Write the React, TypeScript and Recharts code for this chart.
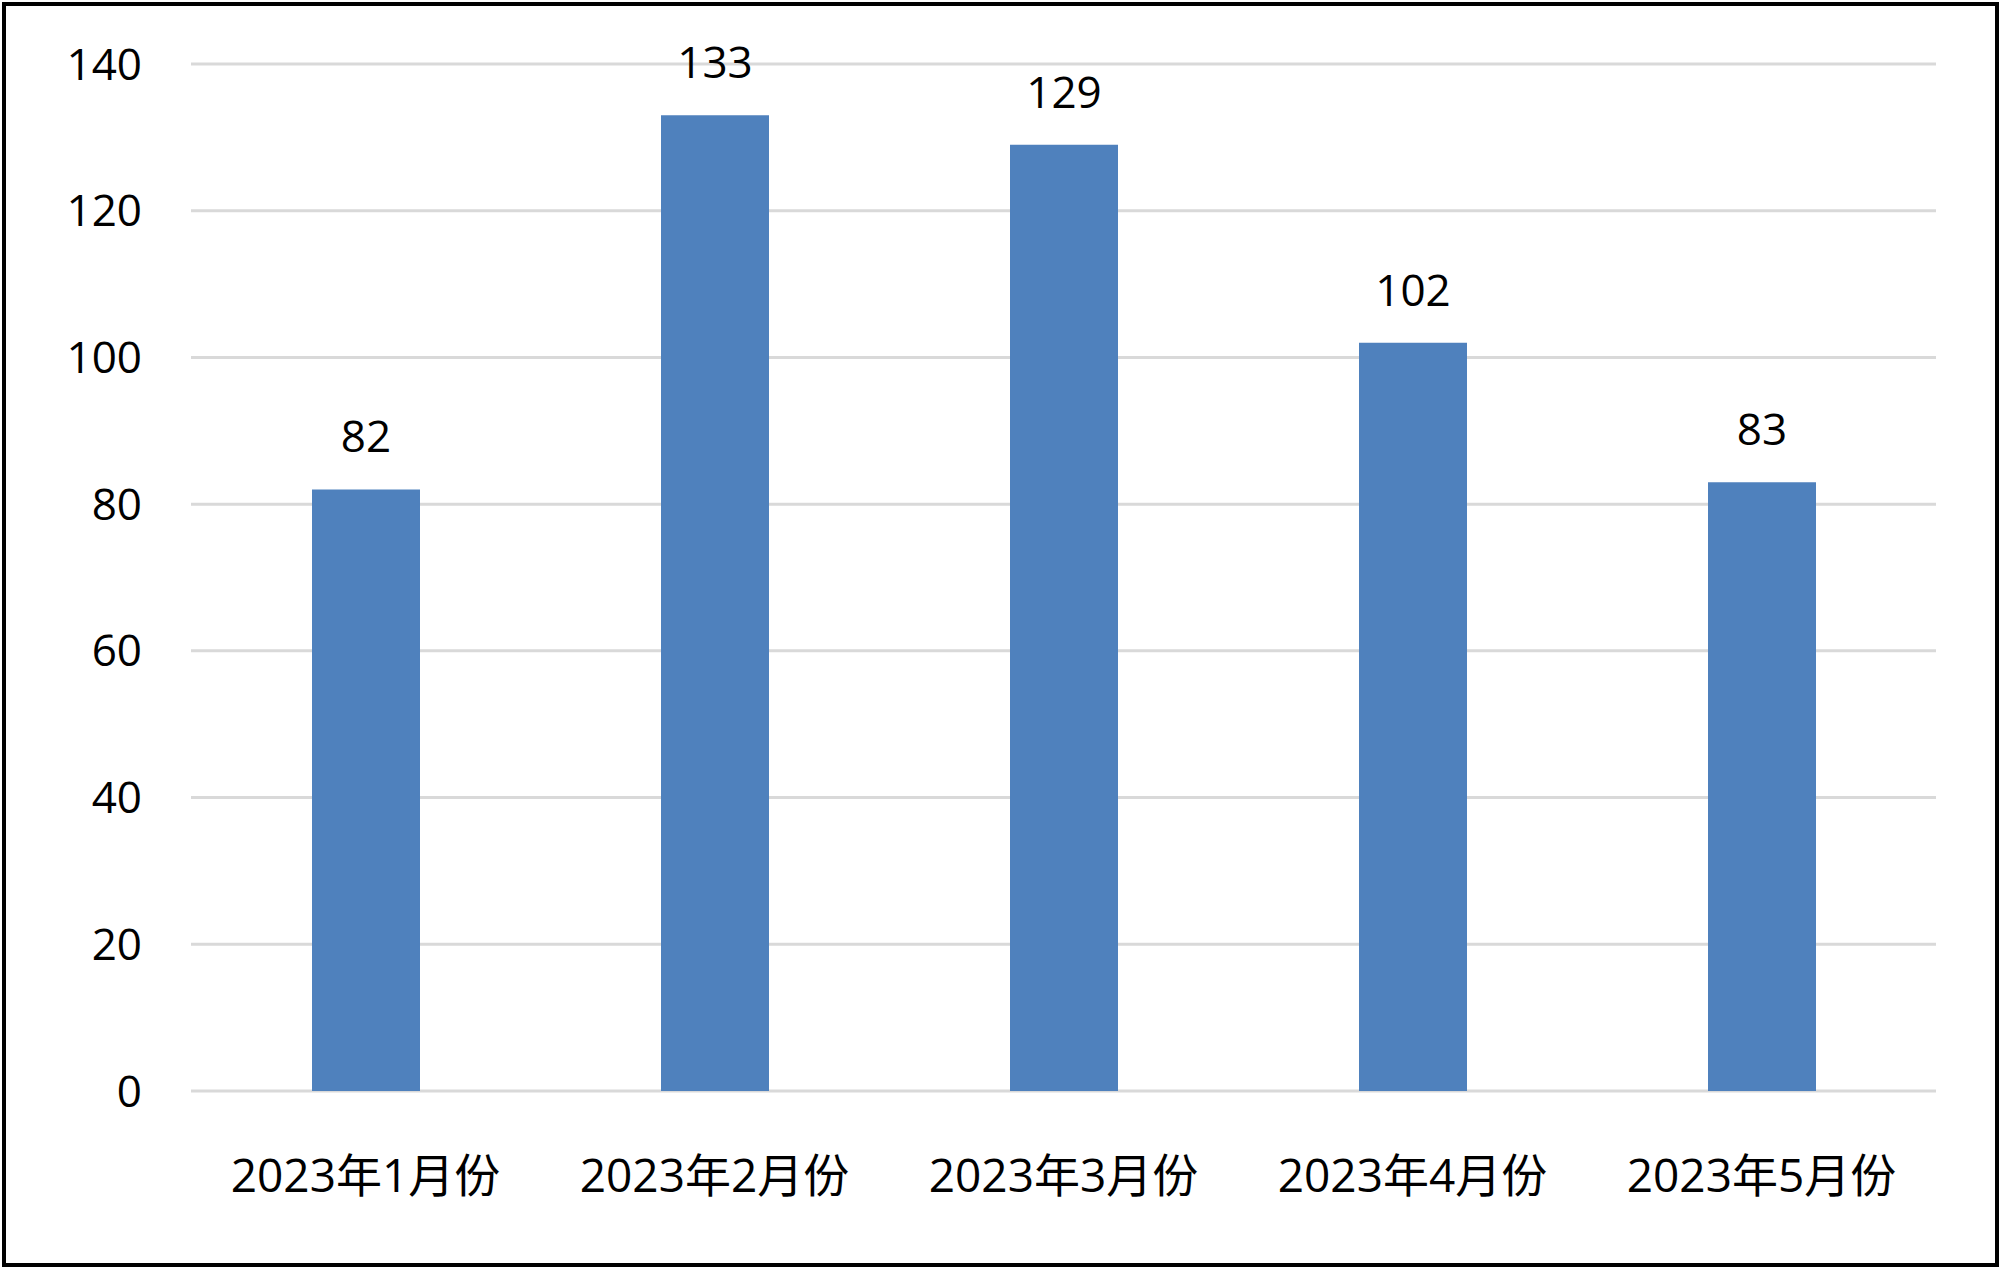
import { BarChart, Bar, XAxis, YAxis, CartesianGrid, LabelList } from 'recharts'

// === DADOS ===
const months = ['2023年1月份', '2023年2月份', '2023年3月份', '2023年4月份', '2023年5月份']
const counts = [82, 133, 129, 102, 83]
const yTicks = [0, 20, 40, 60, 80, 100, 120, 140]

const data = months.map((name, i) => ({ name, value: counts[i] }))

const font = '"Open Sans", "Noto Sans CJK SC", sans-serif'

export default function App() {
  return (
    <div style={{ position: 'absolute', left: 0, top: 0, width: 2000, height: 1269, background: '#fff' }}>
      <BarChart
        width={2000}
        height={1269}
        data={data}
        margin={{ top: 64, right: 64, bottom: 0, left: 0 }}
        barCategoryGap={0}
      >
        <CartesianGrid vertical={false} stroke="#d9d9d9" strokeWidth={3} />
        <XAxis
          dataKey="name"
          height={178}
          axisLine={false}
          tickLine={false}
          tickSize={0}
          tickMargin={68}
          interval={0}
          tick={{ fill: '#000', fontSize: 46, fontFamily: font }}
        />
        <YAxis
          width={191}
          domain={[0, 140]}
          ticks={yTicks}
          axisLine={false}
          tickLine={false}
          tickSize={0}
          tickMargin={49}
          tick={{ fill: '#000', fontSize: 44, fontFamily: font }}
        />
        <Bar dataKey="value" fill="#4f81bd" barSize={108} isAnimationActive={false}>
          <LabelList
            dataKey="value"
            position="top"
            offset={37}
            fill="#000"
            fontSize={44}
            fontFamily={font}
          />
        </Bar>
      </BarChart>
      <div
        style={{
          position: 'absolute',
          left: 2,
          top: 2,
          width: 1997,
          height: 1265,
          border: '4px solid #000',
          boxSizing: 'border-box',
          pointerEvents: 'none',
        }}
      />
    </div>
  )
}
